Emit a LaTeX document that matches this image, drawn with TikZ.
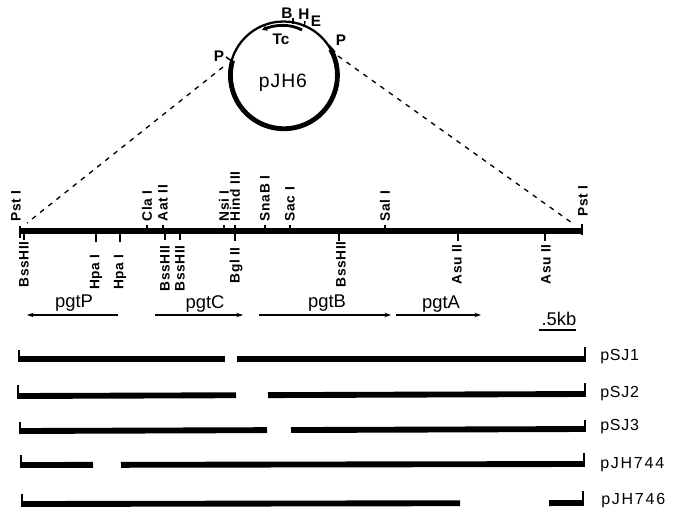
\documentclass[tikz,border=0pt]{standalone}
\usepackage{fontspec}
\setmainfont{Liberation Sans}
\newfontfamily\sitefont[LetterSpace=5]{Liberation Sans}
\newfontfamily\wideclone[LetterSpace=5]{Liberation Sans}
\newfontfamily\widerclone[LetterSpace=11]{Liberation Sans}
\usetikzlibrary{arrows.meta}
\tikzset{
  site/.style={font=\fontsize{10.3}{11}\sitefont\bfseries,inner sep=0pt,rotate=90},
  topsite/.style={site,anchor=west},
  botsite/.style={site,anchor=east},
  tick/.style={line width=1.1pt},
  bar/.style={line width=4.4pt},
  endtick/.style={line width=1.6pt},
  gene/.style={line width=0.8pt,-{Stealth[length=5pt,width=3.4pt]}},
  genelabel/.style={font=\fontsize{13.8}{15}\selectfont,inner sep=0pt},
  clone/.style={font=\fontsize{12}{14}\wideclone,inner sep=0pt,anchor=west},
  cloneb/.style={font=\fontsize{12}{14}\widerclone,inner sep=0pt,anchor=west},
  plet/.style={font=\fontsize{11.5}{13}\selectfont\bfseries,inner sep=0pt},
  link/.style={line width=1pt,dash pattern=on 3.6pt off 4.2pt},
}
\newcommand{\clonebar}[9]{%
  \coordinate (#1a) at (#4,#2);
  \coordinate (#1b) at (#5,{#2+(#3-#2)*(#5-#4)/(#7-#4)});
  \coordinate (#1c) at (#6,{#2+(#3-#2)*(#6-#4)/(#7-#4)});
  \coordinate (#1d) at (#7,#3);
  \coordinate (#1e) at (#4,#8);
  \coordinate (#1f) at (#7,#9);
  \draw[bar] (#1a) -- (#1b);
  \draw[bar] (#1c) -- (#1d);
  \draw[endtick] (#1e) -- ++(0,{#2-#8+3});
  \draw[endtick] (#1f) -- ++(0,{#3-#9+3});
}
\begin{document}
\begin{tikzpicture}[x=0.75pt,y=-0.75pt]
\useasboundingbox (0,0) rectangle (678,508);
% plasmid
\coordinate (pL) at (223,67);
\coordinate (pR) at (338,56);
\draw[line width=1.7pt] (283.5,75.5) circle[radius=54];
\draw[line width=3.6pt] (283.5,75.5) ++(-29:54) arc[start angle=-29,end angle=196,radius=53.5];
\draw[line width=1.1pt] (226,57) -- (233,62);
\draw[line width=1.1pt] (329,45) -- (335,52);
\draw[line width=1.1pt] (293,18) -- (293,24);
\draw[line width=1.1pt] (305,21) -- (304,27);
\draw[line width=2.1pt,{Stealth[length=4pt,width=4.5pt]}-] (262,30) .. controls (275,24.5) and (290,23.5) .. (302,30);
\node[plet] (lB) at (287,13) {B};
\node[plet] (lH) at (304,14) {H};
\node[plet] (lE) at (316,21) {E};
\node[plet] (lPl) at (219,56) {P};
\node[plet] (lPr) at (341,40) {P};
\node[plet] (lTc) at (281,39) {Tc};
\node[genelabel,font=\fontsize{14.5}{16}\wideclone] (lp) at (283,83) {pJH6};
% map
\coordinate (mL) at (20,231);
\coordinate (mR) at (582,231);
\draw[line width=4.4pt] (mL) -- (mR);
\draw[line width=1.6pt] (20,226) -- (20,238);
\draw[line width=1.6pt] (582,224) -- (582,235);
\draw[link] (pL) -- (27,223);
\draw[link] (pR) -- (575,225);
% top sites
\foreach \x/\t/\n in {147/Cla I/cla,163/Aat II/aat,224/Nsi I/nsi,235/Hind III/hin,265/SnaB I/sna,290/Sac I/sac,385/Sal I/sal}{
  \draw[tick] (\x,231) -- (\x,225);
  \node[topsite] (t\n) at (\x,221.5) {\t};
}
\node[topsite] (tp1) at (16,221.5) {Pst I};
\node[topsite] (tp2) at (583,217) {Pst I};
% bottom sites
\foreach \x/\yb in {24/240,96/242,120/242,165/240,180/240,235/241,339/241,458/241,545/241}{
  \draw[tick] (\x,231) -- (\x,\yb);
}
\node[botsite] (sb1) at (24,241) {BssHII};
\node[botsite] (sh1) at (96,254) {Hpa I};
\node[botsite] (sh2) at (120,254) {Hpa I};
\node[botsite] (sb2) at (165,245) {BssHII};
\node[botsite] (sb3) at (180,245) {BssHII};
\node[botsite] (sbg) at (236,247) {Bgl II};
\node[botsite] (sb4) at (341,241) {BssHII};
\node[botsite] (sa1) at (457,244) {Asu II};
\node[botsite] (sa2) at (546,244) {Asu II};
% genes
\coordinate (g1a) at (118,315); \coordinate (g1b) at (27,315);
\coordinate (g2a) at (155,315); \coordinate (g2b) at (243,315);
\coordinate (g3a) at (259,315); \coordinate (g3b) at (391,315);
\coordinate (g4a) at (396,315); \coordinate (g4b) at (481,315);
\draw[gene] (g1a) -- (g1b);
\draw[gene] (g2a) -- (g2b);
\draw[gene] (g3a) -- (g3b);
\draw[gene] (g4a) -- (g4b);
\node[genelabel] (lgP) at (74,303) {pgtP};
\node[genelabel] (lgC) at (205,304) {pgtC};
\node[genelabel] (lgB) at (327,303) {pgtB};
\node[genelabel] (lgA) at (441,304) {pgtA};
% scale
\coordinate (s1) at (539,330); \coordinate (s2) at (576,330);
\draw[line width=0.9pt] (s1) -- (s2);
\node[genelabel] (lsc) at (559,319) {.5kb};
% clones
\clonebar{c1}{359}{359}{19}{225}{237}{585}{350}{347}
\clonebar{c2}{396}{394}{18}{236}{268}{585}{385}{383}
\clonebar{c3}{431}{429}{20}{267}{291}{585}{422}{420}
\clonebar{c4}{465}{464}{21}{93}{121}{584}{455}{453}
\clonebar{c5}{504}{503}{22}{460}{549}{583}{494}{491}
\node[clone] (lc1) at (600,357) {pSJ1};
\node[clone] (lc2) at (600,394) {pSJ2};
\node[clone] (lc3) at (600,427) {pSJ3};
\node[cloneb] (lc4) at (600,465) {pJH744};
\node[cloneb] (lc5) at (601,501) {pJH746};
\end{tikzpicture}
\end{document}
